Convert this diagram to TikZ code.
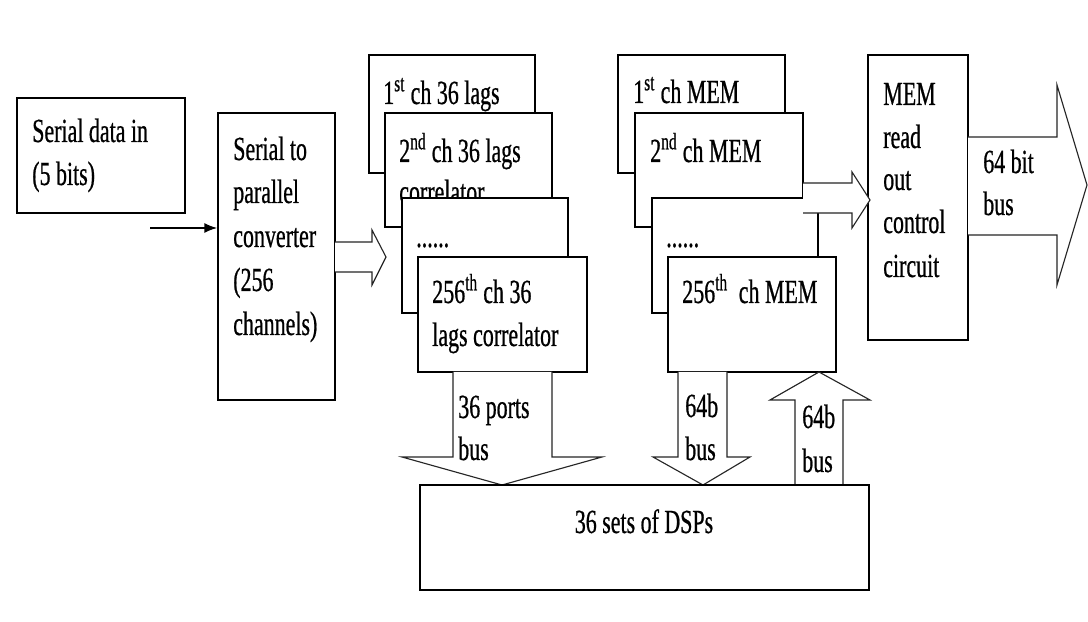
\documentclass[tikz,border=0pt]{standalone}
\usepackage{fontspec}
\setmainfont[FakeStretch=0.65,FakeBold=0.6]{Liberation Serif}
\usetikzlibrary{fit,arrows.meta}
\begin{document}
\begin{tikzpicture}[x=0.025cm,y=-0.025cm,
  box/.style={draw=black,line width=1.3pt,fill=white,inner sep=0pt},
  txt/.style={inner sep=0pt,anchor=base west,font=\fontsize{24}{30}\selectfont},
  ctxt/.style={inner sep=0pt,anchor=base,font=\fontsize{24}{30}\selectfont},
  barrow/.style={draw=black!85,line width=0.8pt,fill=white,line join=miter},
  thin/.style={draw=black,line width=0.9pt,-{Latex[length=9pt,width=7pt]}}]
\useasboundingbox (0,0) rectangle (1088,622);
\fill[white] (0,0) rectangle (1088,622);

% input box
\node[box,fit={(17,98) (185,213)}] (b1) {};
\node[txt] (b1t1) at (32,142) {Serial data in};
\node[txt] (b1t2) at (32,185) {(5 bits)};

% serial to parallel converter
\node[box,fit={(218,113) (335,400)}] (s2) {};
\node[txt] (s2t1) at (233,160) {Serial to};
\node[txt] (s2t2) at (233,203) {parallel};
\node[txt] (s2t3) at (233,247) {converter};
\node[txt] (s2t4) at (233,291) {(256};
\node[txt] (s2t5) at (233,335) {channels)};

\coordinate (inp) at (150,228);
\draw[thin] (inp) -- (inp -| s2.west);

% block arrow converter -> correlators
\draw[barrow] (335,242) -- (372,242) -- (372,230) -- (386,257) -- (372,285) -- (372,272) -- (335,272);

% correlators
\node[box,fit={(369,55) (535,173)}] (c1) {};
\node[txt] (c1t) at (383,104) {1\textsuperscript{st} ch 36 lags};
\node[box,fit={(385,113) (552,227)}] (c2) {};
\node[txt] (c2t1) at (399,162) {2\textsuperscript{nd} ch 36 lags};
\node[txt] (c2t2) at (399,203) {correlator};
\node[box,fit={(402,198) (568,313)}] (c3) {};
\node[txt] (c3t) at (416,247) {......};
\node[box,fit={(418,257) (587,372)}] (c4) {};
\node[txt] (c4t1) at (432,303) {256\textsuperscript{th} ch 36};
\node[txt] (c4t2) at (432,346) {lags correlator};

% memories
\node[box,fit={(618,55) (785,173)}] (m1) {};
\node[txt] (m1t) at (633,103) {1\textsuperscript{st} ch MEM};
\node[box,fit={(635,113) (803,227)}] (m2) {};
\node[txt] (m2t) at (650,162) {2\textsuperscript{nd} ch MEM};
\node[box,fit={(652,198) (818,313)}] (m3) {};
\node[txt] (m3t) at (666,247) {......};
\node[box,fit={(668,257) (836,372)}] (m4) {};
\node[txt] (m4t) at (682,303) {256\textsuperscript{th}\ \ ch MEM};

% read out control
\node[box,fit={(868,55) (968,340)}] (ro) {};
\node[txt] (rot1) at (883,105) {MEM};
\node[txt] (rot2) at (883,148) {read};
\node[txt] (rot3) at (883,190) {out};
\node[txt] (rot4) at (883,233) {control};
\node[txt] (rot5) at (883,277) {circuit};

% block arrow MEM -> read out
\draw[barrow] (803,183) -- (852,183) -- (852,172) -- (870,200) -- (852,228) -- (852,213) -- (803,213);

% output bus
\draw[barrow] (968,137) -- (1057,137) -- (1057,85) -- (1087,185) -- (1057,285) -- (1057,235) -- (968,235);
\node[txt] (ot1) at (983,173) {64 bit};
\node[txt] (ot2) at (983,215) {bus};

% buses to/from DSPs
\draw[barrow] (453,372) -- (453,457) -- (402,457) -- (502,485) -- (602,457) -- (552,457) -- (552,372);
\draw[barrow] (678,372) -- (678,457) -- (653,457) -- (703,485) -- (750,457) -- (727,457) -- (727,372);
\draw[barrow] (795,485) -- (795,400) -- (770,400) -- (819,372) -- (870,400) -- (843,400) -- (843,485);

% DSPs
\node[box,fit={(420,485) (869,590)}] (dsp) {};
\node[ctxt] (dspt) at (644,533) {36 sets of DSPs};

\node[txt] (p1) at (458,418) {36 ports};
\node[txt] (p2) at (458,460) {bus};
\node[txt] (d1) at (685,417) {64b};
\node[txt] (d2) at (685,460) {bus};
\node[txt] (u1) at (802,428) {64b};
\node[txt] (u2) at (802,472) {bus};
\end{tikzpicture}
\end{document}
